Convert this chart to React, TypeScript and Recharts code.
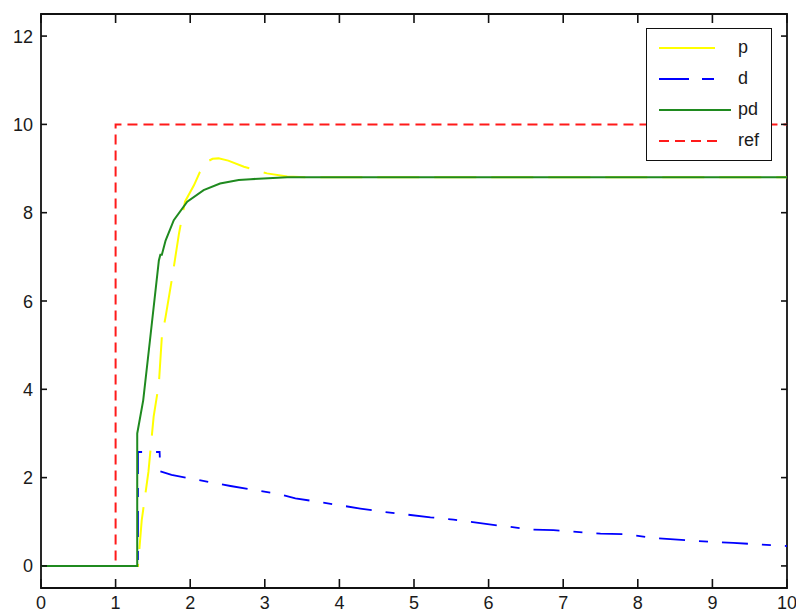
import React from "react";
import { LineChart, Line, XAxis, YAxis, ReferenceArea } from "recharts";

// step response traces
const refT = [0, 1, 1, 10];
const refV = [0, 0, 10, 10];

const pT = [0, 1.3, 1.31, 1.35, 1.44, 1.51, 1.58, 1.62, 1.67, 1.76, 1.85, 1.93, 2.05, 2.13, 2.22, 2.3, 2.38, 2.51, 2.72, 3.03, 3.3, 3.6, 10];
const pV = [0, 0, 0.2, 1.03, 2.13, 3.38, 4.13, 5.19, 5.64, 6.55, 7.53, 8.25, 8.62, 8.92, 9.15, 9.22, 9.23, 9.18, 9.04, 8.89, 8.82, 8.8, 8.8];

const dT = [0, 1.3, 1.3, 1.59, 1.6, 1.75, 2.25, 2.54, 3.21, 3.41, 3.72, 4.28, 4.62, 5.22, 5.53, 6.11, 6.6, 6.87, 7.5, 7.83, 8.17, 8.75, 9.28, 9.82, 10];
const dV = [0, 0, 2.58, 2.58, 2.14, 2.06, 1.9, 1.81, 1.62, 1.53, 1.45, 1.3, 1.22, 1.1, 1.05, 0.92, 0.82, 0.81, 0.73, 0.72, 0.64, 0.57, 0.52, 0.47, 0.45];

const pdT = [0, 1.29, 1.29, 1.37, 1.46, 1.58, 1.6, 1.62, 1.67, 1.78, 1.96, 2.18, 2.4, 2.65, 2.81, 3.3, 10];
const pdV = [0, 0, 3.0, 3.75, 5.1, 6.92, 7.05, 7.05, 7.37, 7.83, 8.25, 8.51, 8.66, 8.74, 8.76, 8.8, 8.8];

const xTicks = [0, 1, 2, 3, 4, 5, 6, 7, 8, 9, 10];
const yTicks = [0, 2, 4, 6, 8, 10, 12];

const legendItems = [
  { name: "p", color: "#ffff00", dash: undefined, len: 56 },
  { name: "d", color: "#0000ff", dash: "30 13 12 13", len: 56 },
  { name: "pd", color: "#1f8a1f", dash: undefined, len: 72 },
  { name: "ref", color: "#ff1a1a", dash: "10 6", len: 64 },
];

const zip = (t: number[], v: number[]) => t.map((x, i) => ({ x, y: v[i] }));

const FONT = '"Liberation Sans", Arial, sans-serif';
const W = 796;
const H = 614;
const PLOT_TOP = 14;
const PLOT_LEFT = 41;
const PLOT_RIGHT = 787;

const XTick = (props: any) => {
  const { x, y, payload } = props;
  return (
    <g>
      <line x1={x} y1={y} x2={x} y2={y - 9} stroke="#111" strokeWidth={1.6} />
      <line x1={x} y1={PLOT_TOP} x2={x} y2={PLOT_TOP + 9} stroke="#111" strokeWidth={1.6} />
      <text x={x} y={y + 21} textAnchor="middle" fontSize={18} fontFamily={FONT} fill="#1a1a1a">
        {payload.value}
      </text>
    </g>
  );
};

const YTick = (props: any) => {
  const { y, payload } = props;
  return (
    <g>
      <line x1={PLOT_LEFT} y1={y} x2={PLOT_LEFT + 6} y2={y} stroke="#111" strokeWidth={1.6} />
      <line x1={PLOT_RIGHT} y1={y} x2={PLOT_RIGHT - 6} y2={y} stroke="#111" strokeWidth={1.6} />
      <text x={33} y={y + 6.5} textAnchor="end" fontSize={18} fontFamily={FONT} fill="#1a1a1a">
        {payload.value}
      </text>
    </g>
  );
};

export default function App() {
  return (
    <div style={{ position: "absolute", left: 0, top: 0, width: W, height: H, background: "#fff" }}>
      <LineChart width={W} height={H} margin={{ top: PLOT_TOP, right: W - PLOT_RIGHT, left: 0, bottom: 0 }}>
        <XAxis
          type="number"
          dataKey="x"
          domain={[0, 10]}
          ticks={xTicks}
          interval={0}
          height={26}
          axisLine={false}
          tickLine={false}
          tickSize={0}
          tickMargin={0}
          tick={<XTick />}
          allowDataOverflow
        />
        <YAxis
          type="number"
          dataKey="y"
          domain={[-0.5, 12.5]}
          ticks={yTicks}
          interval={0}
          width={PLOT_LEFT}
          axisLine={false}
          tickLine={false}
          tickSize={0}
          tickMargin={0}
          tick={<YTick />}
          allowDataOverflow
        />
        <ReferenceArea x1={0} x2={10} y1={-0.5} y2={12.5} fill="none" stroke="#111" strokeWidth={1.8} />
        <Line data={zip(refT, refV)} dataKey="y" type="linear" stroke="#ff1a1a" strokeWidth={2} strokeDasharray="10 6" dot={false} isAnimationActive={false} />
        <Line data={zip(pT, pV)} dataKey="y" type="linear" stroke="#ffff00" strokeWidth={2} strokeDasharray="42 15" dot={false} isAnimationActive={false} />
        <Line data={zip(dT, dV)} dataKey="y" type="linear" stroke="#0000ff" strokeWidth={1.8} strokeDasharray="26 14 9 14" dot={false} isAnimationActive={false} />
        <Line data={zip(pdT, pdV)} dataKey="y" type="linear" stroke="#1f8a1f" strokeWidth={2} dot={false} isAnimationActive={false} />
      </LineChart>
      <div
        style={{
          position: "absolute",
          left: 646,
          top: 28,
          width: 126,
          height: 133,
          boxSizing: "border-box",
          border: "1.8px solid #111",
          background: "#fff",
          fontFamily: FONT,
          fontSize: 18,
          color: "#1a1a1a",
        }}
      >
        {legendItems.map((it, i) => (
          <div key={it.name} style={{ position: "absolute", left: 0, top: 19 + i * 31 - 12, height: 24, width: 124 }}>
            <svg width={90} height={24} style={{ position: "absolute", left: 12, top: 0 }}>
              <line x1={0} y1={12} x2={it.len} y2={12} stroke={it.color} strokeWidth={2} strokeDasharray={it.dash} />
            </svg>
            <span style={{ position: "absolute", left: 91, top: 1, lineHeight: "20px" }}>{it.name}</span>
          </div>
        ))}
      </div>
    </div>
  );
}
